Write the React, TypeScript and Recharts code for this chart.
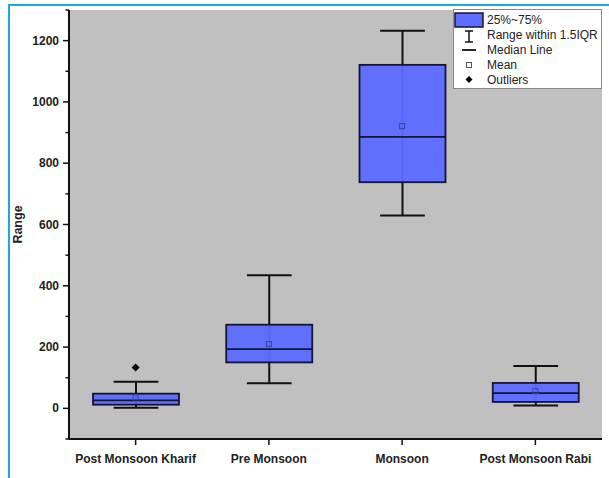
import React from "react";
import { ComposedChart, Bar, Scatter, XAxis, YAxis, CartesianGrid } from "recharts";

const categories = ["Post Monsoon Kharif", "Pre Monsoon", "Monsoon", "Post Monsoon Rabi"];
const whiskerLow = [2, 82, 629, 9];
const q1 = [12, 150, 738, 21];
const median = [26, 193, 886, 50];
const q3 = [48, 273, 1121, 83];
const whiskerHigh = [87, 434, 1232, 138];
const means = [36, 210, 921, 56];
const outliers = [133, null, null, null];
const yTicks = [-100, 0, 100, 200, 300, 400, 500, 600, 700, 800, 900, 1000, 1100, 1200, 1300];
const legendItems = ["25%~75%", "Range within 1.5IQR", "Median Line", "Mean", "Outliers"];

const data = categories.map((c, i) => ({
  name: c,
  box: [q1[i], q3[i]],
  lo: whiskerLow[i],
  q1: q1[i],
  med: median[i],
  q3: q3[i],
  hi: whiskerHigh[i],
  mean: means[i],
  outlier: outliers[i],
}));

const FONT = "Arial, 'Liberation Sans', sans-serif";
const BOX_FILL = "#5b6cff";
const BOX_STROKE = "#141433";

function BoxShape(props: any) {
  const { x, y, width, height, payload } = props;
  const top = Math.min(y, y + height);
  const h = Math.abs(height);
  const k = h / (payload.q3 - payload.q1);
  const py = (v: number) => top + (payload.q3 - v) * k;
  const cx = x + width / 2;
  const cap = width * 0.26;
  return (
    <g>
      <line x1={cx} x2={cx} y1={py(payload.hi)} y2={py(payload.lo)} stroke="#111" strokeWidth={2} />
      <line x1={cx - cap} x2={cx + cap} y1={py(payload.hi)} y2={py(payload.hi)} stroke="#111" strokeWidth={2} />
      <line x1={cx - cap} x2={cx + cap} y1={py(payload.lo)} y2={py(payload.lo)} stroke="#111" strokeWidth={2} />
      <rect x={x} y={top} width={width} height={h} fill={BOX_FILL} fillOpacity={0.95} stroke={BOX_STROKE} strokeWidth={1.8} />
      <line x1={x} x2={x + width} y1={py(payload.med)} y2={py(payload.med)} stroke={BOX_STROKE} strokeWidth={1.8} />
    </g>
  );
}

function MeanShape(props: any) {
  const { cx, cy } = props;
  if (cx == null || cy == null) return null;
  return <rect x={cx - 2.5} y={cy - 2.5} width={5} height={5} fill="none" stroke="#3344aa" strokeWidth={1} />;
}

function OutlierShape(props: any) {
  const { cx, cy, payload } = props;
  if (payload == null || payload.outlier == null) return null;
  return <path d={`M${cx},${cy - 4} L${cx + 4},${cy} L${cx},${cy + 4} L${cx - 4},${cy} Z`} fill="#000" />;
}

function YTick(props: any) {
  const { x, y, payload } = props;
  const major = payload.value % 200 === 0 && payload.value >= 0 && payload.value <= 1200;
  return (
    <g>
      <line x1={x - (major ? 6 : 3.5)} x2={x} y1={y} y2={y} stroke="#111" strokeWidth={1.5} />
      {major && (
        <text x={x - 10} y={y} dy={4} textAnchor="end" fontSize={12} fontWeight="bold" fill="#222" fontFamily={FONT}>
          {payload.value}
        </text>
      )}
    </g>
  );
}

function XTick(props: any) {
  const { x, y, payload } = props;
  return (
    <g>
      <line x1={x} x2={x} y1={y} y2={y + 6} stroke="#111" strokeWidth={1.5} />
      <text x={x} y={y + 24} textAnchor="middle" fontSize={12} fontWeight="bold" fill="#222" fontFamily={FONT}>
        {payload.value}
      </text>
    </g>
  );
}

function LegendBox() {
  return (
    <svg width={149} height={80} style={{ display: "block" }}>
      <rect x={0.5} y={0.5} width={148} height={79} fill="#fff" stroke="#888" />
      <rect x={2} y={4} width={28} height={14} fill={BOX_FILL} stroke={BOX_STROKE} strokeWidth={1.5} />
      <line x1={16} x2={16} y1={22} y2={33} stroke="#111" strokeWidth={1.5} />
      <line x1={12} x2={20} y1={22} y2={22} stroke="#111" strokeWidth={1.5} />
      <line x1={12} x2={20} y1={33} y2={33} stroke="#111" strokeWidth={1.5} />
      <line x1={9} x2={23} y1={41} y2={41} stroke="#111" strokeWidth={1.8} />
      <rect x={13.5} y={53.5} width={5} height={5} fill="#fff" stroke="#555" strokeWidth={1} />
      <path d="M16,67 L19.5,70.5 L16,74 L12.5,70.5 Z" fill="#000" />
      {legendItems.map((t, i) => (
        <text key={t} x={34} y={15 + i * 15} fontSize={12} fill="#222" fontFamily={FONT}>
          {t}
        </text>
      ))}
    </svg>
  );
}

export default function App() {
  return (
    <div style={{ position: "absolute", left: 0, top: 0, width: 609, height: 478, background: "#fff", overflow: "hidden" }}>
      <div style={{ position: "absolute", left: 8, top: 4, width: 620, height: 500, borderTop: "2px solid #19a9e6", borderLeft: "2px solid #19a9e6" }} />
      <div style={{ position: "absolute", left: 0, top: 0 }}>
        <ComposedChart width={609} height={478} data={data} margin={{ top: 10, right: 7, bottom: 9, left: 9 }}>
          <CartesianGrid fill="#c0c0c0" horizontal={false} vertical={false} />
          <XAxis
            dataKey="name"
            type="category"
            height={30}
            axisLine={{ stroke: "#111", strokeWidth: 2 }}
            tickLine={false}
            tickSize={0}
            tickMargin={0}
            tick={<XTick />}
            interval={0}
          />
          <YAxis
            type="number"
            domain={[-100, 1300]}
            ticks={yTicks}
            width={60}
            axisLine={{ stroke: "#111", strokeWidth: 2 }}
            tickLine={false}
            tickSize={0}
            tickMargin={0}
            tick={<YTick />}
            interval={0}
            label={{
              content: (p: any) => {
                const vb = p.viewBox || { x: 9, y: 10, width: 60, height: 429 };
                const lx = vb.x + 13;
                const ly = vb.y + vb.height / 2;
                return (
                  <text x={lx} y={ly} transform={`rotate(-90 ${lx} ${ly})`} textAnchor="middle" fontSize={12.5} fontWeight="bold" fill="#222" fontFamily={FONT}>
                    Range
                  </text>
                );
              },
            }}
          />
          <Bar dataKey="box" barSize={86} shape={<BoxShape />} isAnimationActive={false} />
          <Scatter dataKey="mean" shape={<MeanShape />} isAnimationActive={false} />
          <Scatter dataKey="outlier" shape={<OutlierShape />} isAnimationActive={false} />
        </ComposedChart>
      </div>
      <div style={{ position: "absolute", left: 453, top: 9 }}>
        <LegendBox />
      </div>
    </div>
  );
}
